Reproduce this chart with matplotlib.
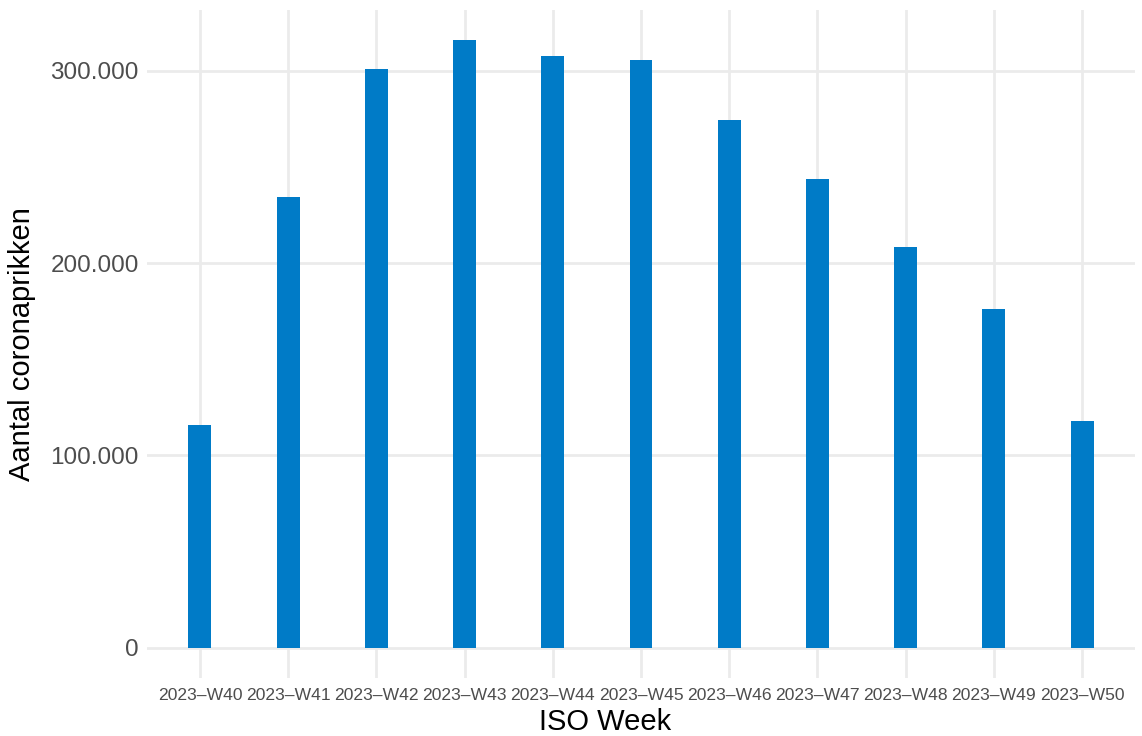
import matplotlib
matplotlib.use('Agg')
import matplotlib.pyplot as plt
import numpy as np

weeks = ['2023-W40', '2023-W41', '2023-W42', '2023-W43', '2023-W44', '2023-W45',
         '2023-W46', '2023-W47', '2023-W48', '2023-W49', '2023-W50']
prikken = [116000, 234300, 300800, 315800, 307500, 305500,
           274300, 243600, 208300, 176100, 117900]
y_ticks = [0, 100000, 200000, 300000]
y_labels = ['0', '100.000', '200.000', '300.000']

plt.rcParams['font.family'] = ['Liberation Sans', 'DejaVu Sans']

fig = plt.figure(figsize=(11.42, 7.36), dpi=100)
ax = fig.add_axes([0.1287, 0.0788, 0.8652, 0.9076])

x = np.arange(len(weeks))
ax.bar(x, prikken, width=0.26, color='#007BC7', zorder=2)

ax.set_xlim(-0.6, len(weeks) - 0.4)
ymax = max(prikken)
ax.set_ylim(-0.05 * ymax, 1.05 * ymax)

ax.set_yticks(y_ticks)
ax.set_yticklabels(y_labels, fontsize=17.5, color='#4D4D4D')
ax.set_xticks(x)
# en dash as in the reference labels
ax.set_xticklabels([w.replace('-', '\u2013') for w in weeks], fontsize=12.6, color='#4D4D4D')

ax.grid(True, color='#EBEBEB', linewidth=2, zorder=0)
ax.set_axisbelow(True)
ax.tick_params(axis='y', length=0, pad=6)
ax.tick_params(axis='x', length=0, pad=7)
for s in ax.spines.values():
    s.set_visible(False)

ax.set_xlabel('ISO Week', fontsize=21, labelpad=4)
ax.xaxis.set_label_coords(0.4636, -0.045, transform=ax.transAxes)
ax.xaxis.label.set_va('top')
ax.set_ylabel('Aantal coronaprikken', fontsize=21, labelpad=10)

fig.savefig('out.png', dpi=100)
